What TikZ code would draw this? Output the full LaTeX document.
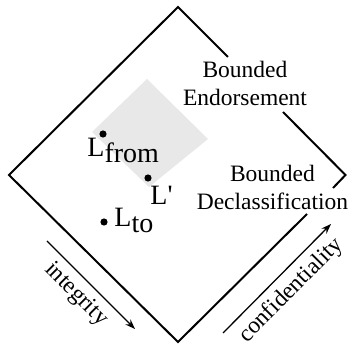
\documentclass[tikz,border=0pt]{standalone}
\usepackage{fontspec}
\setmainfont{Liberation Serif}
\usetikzlibrary{arrows.meta}

\begin{document}
\begin{tikzpicture}[x=0.5pt, y=-0.5pt]
    % styles
    \tikzset{
        dot/.style={circle, fill=black, inner sep=0pt, minimum size=3.6pt},
        region/.style={fill=black!9, draw=none},
        edge/.style={line width=1pt, line join=miter},
        axis/.style={line width=0.65pt, -{Stealth[length=5pt, width=3.6pt]}},
        txt/.style={font=\fontsize{11.75}{14}\selectfont, align=center, inner sep=0pt},
        pt/.style={font=\fontsize{14}{16}\selectfont, inner sep=0pt, anchor=base west},
    }

    % bounding box
    \useasboundingbox (0,0) rectangle (348,347);

    % corners of the lattice
    \coordinate (top) at (178,7);
    \coordinate (right) at (345.5,175);
    \coordinate (bottom) at (178,342);
    \coordinate (left) at (9,175);
    % where the edges stop for the labels
    \coordinate (e1) at (228,57);
    \coordinate (e2) at (283,112);
    \coordinate (d1) at (333,188);
    \coordinate (d2) at (307,214);

    % shaded region
    \fill[region] (147,79) -- (208,139) -- (149,187) -- (92,132) -- cycle;

    % lattice outline
    \draw[edge] (e1) -- (top) -- (left) -- (bottom) -- (d2);
    \draw[edge] (e2) -- (right) -- (d1);

    % labels of the right edges
    \node[txt] (endorse) at (245,83) {Bounded\\Endorsement};
    \node[txt] (declass) at (272.5,187) {Bounded\\Declassification};

    % the three labels
    \node[dot] (lfrom) at (103,134) {};
    \node[dot] (lprime) at (148,178) {};
    \node[dot] (lto) at (104,222) {};
    \node[pt] (lfromtxt) at (87,157) {L\raisebox{-3pt}{from}};
    \node[pt] (lprimetxt) at (150,205) {L\textquotesingle};
    \node[pt] (ltotxt) at (114,227) {L\raisebox{-3pt}{to}};

    % axes
    \coordinate (i1) at (47,241);
    \coordinate (i2) at (135,329);
    \coordinate (c1) at (223,333);
    \coordinate (c2) at (331,224);
    \draw[axis] (i1) -- node[txt, sloped, below=3.2pt, pos=0.47] (integ) {integrity} (i2);
    \draw[axis] (c1) -- node[txt, sloped, below=3.5pt, pos=0.51] (confid) {confidentiality} (c2);
\end{tikzpicture}
\end{document}
